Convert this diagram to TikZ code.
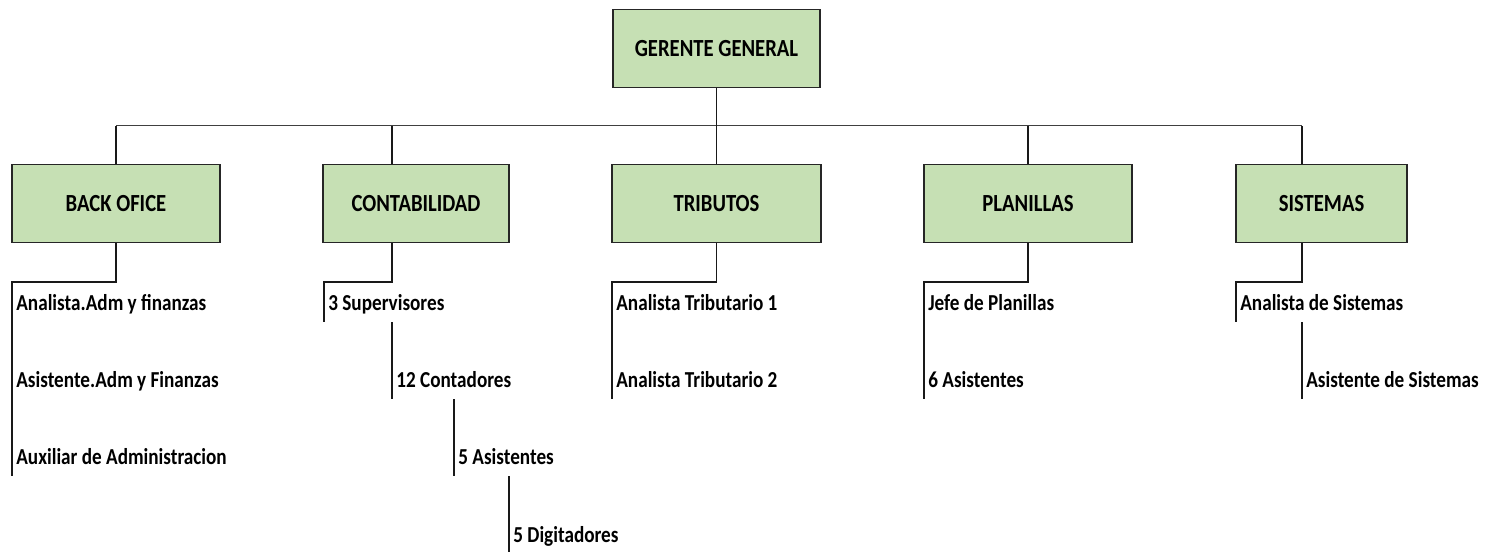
\documentclass[tikz,border=0pt]{standalone}
\usepackage{fontspec}
\setmainfont{Carlito}[FakeStretch=0.84]
\usetikzlibrary{positioning}
\definecolor{boxgreen}{RGB}{198,224,180}
\tikzset{
  unit/.style = {draw = black!85, line width = 1.1pt, fill = boxgreen,
    minimum height = 1.56cm, inner sep = 0, font = \fontsize{14}{16}\selectfont\bfseries},
  item/.style = {anchor = west, inner xsep = 0.08cm, inner ysep = 0,
    minimum height = 0.74cm, text height = 0.95em, text depth = 0.15em,
    font = \fontsize{13}{15}\selectfont\bfseries},
  link/.style = {black!90, line width = 0.8pt}
}

\begin{document}
\begin{tikzpicture}[x = 0.02cm, y = -0.02cm]
  \useasboundingbox (0,0) rectangle (1490,551);

  % top and departments
  \node[unit, minimum width = 4.14cm] (gg) at (716.5,48.5) {GERENTE GENERAL};
  \node[unit, minimum width = 4.16cm] (back) at (116,203.5) {BACK OFICE};
  \node[unit, minimum width = 3.72cm] (conta) at (416,203.5) {CONTABILIDAD};
  \node[unit, minimum width = 4.18cm] (trib) at (716.5,203.5) {TRIBUTOS};
  \node[unit, minimum width = 4.16cm] (plan) at (1028,203.5) {PLANILLAS};
  \node[unit, minimum width = 3.42cm] (sist) at (1321.5,203.5) {SISTEMAS};

  % staff
  \node[item] (bo1) at (12,303) {Analista.Adm y finanzas};
  \node[item] (bo2) at (12,380) {Asistente.Adm y Finanzas};
  \node[item] (bo3) at (12,457) {Auxiliar de Administracion};
  \node[item] (sup) at (324,303) {3 Supervisores};
  \node[item] (con) at (392,380) {12 Contadores};
  \node[item] (asi) at (454,457) {5 Asistentes};
  \node[item] (dig) at (509,535) {5 Digitadores};
  \node[item] (tr1) at (612,303) {Analista Tributario 1};
  \node[item] (tr2) at (612,380) {Analista Tributario 2};
  \node[item] (pl1) at (924,303) {Jefe de Planillas};
  \node[item] (pl2) at (924,380) {6 Asistentes};
  \node[item] (si1) at (1236,303) {Analista de Sistemas};
  \node[item] (si2) at (1302,380) {Asistente de Sistemas};

  % bus
  \coordinate (busy) at (0,125.5);
  \coordinate (elb) at (0,282);
  \draw[link, line width = 1.1pt, black!75] (back.north |- busy) -- (si2.west |- busy);
  \draw[link] (gg.south) -- (gg.south |- busy);
  \foreach \n in {back, trib, plan}
    \draw[link] (\n.north) -- (\n.north |- busy);
  \draw[link] (con.west |- conta.north) -- (con.west |- busy);
  \draw[link] (si2.west |- sist.north) -- (si2.west |- busy);

  % departments to staff
  \draw[link] (back.south) -- (back.south |- elb) -| (bo3.south west);
  \draw[link] (con.west |- conta.south) -- (con.west |- elb) -| (sup.south west);
  \draw[link] (trib.south) -- (trib.south |- elb) -| (tr2.south west);
  \draw[link] (plan.south) -- (plan.south |- elb) -| (pl2.south west);
  \draw[link] (si2.west |- sist.south) -- (si2.west |- elb) -| (si1.south west);
  \draw[link] (con.south west) -- (con.west |- sup.south);
  \draw[link] (asi.south west) -- (asi.west |- con.south);
  \draw[link] (dig.south west) -- (dig.west |- asi.south);
  \draw[link] (si2.south west) -- (si2.west |- si1.south);
\end{tikzpicture}
\end{document}
